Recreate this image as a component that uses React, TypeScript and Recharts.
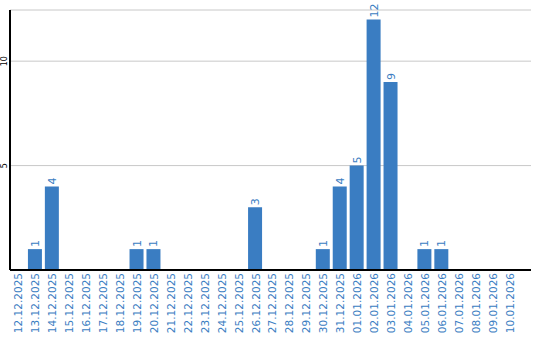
import React from 'react';
import { BarChart, Bar, XAxis, YAxis, CartesianGrid, LabelList } from 'recharts';

const dates = [
  '12.12.2025', '13.12.2025', '14.12.2025', '15.12.2025', '16.12.2025', '17.12.2025',
  '18.12.2025', '19.12.2025', '20.12.2025', '21.12.2025', '22.12.2025', '23.12.2025',
  '24.12.2025', '25.12.2025', '26.12.2025', '27.12.2025', '28.12.2025', '29.12.2025',
  '30.12.2025', '31.12.2025', '01.01.2026', '02.01.2026', '03.01.2026', '04.01.2026',
  '05.01.2026', '06.01.2026', '07.01.2026', '08.01.2026', '09.01.2026', '10.01.2026',
];
const counts = [0, 1, 4, 0, 0, 0, 0, 1, 1, 0, 0, 0, 0, 0, 3, 0, 0, 0, 1, 4, 5, 12, 9, 0, 1, 1, 0, 0, 0, 0];
const yTicks = [5, 10];

const data = dates.map((d, i) => ({ date: d, count: counts[i] }));

const BLUE = '#3a7dc2';
const FONT = '"DejaVu Sans", sans-serif';

// x axis sits at y=270, labels hang below it reading bottom-to-top
const DateTick = (props: any) => {
  const { x, payload } = props;
  return (
    <text
      x={0}
      y={0}
      transform={`translate(${x + 4},273) rotate(-90)`}
      textAnchor="end"
      fill={BLUE}
      fontSize={10.5}
      fontFamily={FONT}
    >
      {payload.value}
    </text>
  );
};

const CountTick = (props: any) => {
  const { y, payload } = props;
  return (
    <text
      x={0}
      y={0}
      transform={`translate(7,${y}) rotate(-90)`}
      textAnchor="middle"
      fill="#000"
      fontSize={8}
      fontFamily={FONT}
    >
      {payload.value}
    </text>
  );
};

const ValueLabel = (props: any) => {
  const { x, y, width, value } = props;
  if (!value) return null;
  return (
    <text
      x={0}
      y={0}
      transform={`translate(${x + width / 2 + 4},${y - 2}) rotate(-90)`}
      textAnchor="start"
      fill={BLUE}
      fontSize={11}
      fontFamily={FONT}
    >
      {value}
    </text>
  );
};

export default function App() {
  return (
    <div style={{ position: 'absolute', left: 0, top: 0, background: '#fff' }}>
      <BarChart
        width={540}
        height={340}
        data={data}
        margin={{ top: 10, right: 9, left: 0, bottom: 0 }}
        barSize={14}
      >
        <CartesianGrid vertical={false} stroke="#c8c8c8" />
        <XAxis
          dataKey="date"
          interval={0}
          height={70}
          tick={<DateTick />}
          tickLine={false}
          axisLine={{ stroke: '#000', strokeWidth: 2 }}
          padding={{ left: 0, right: 13 }}
        />
        <YAxis
          width={10}
          domain={[0, 12.45]}
          ticks={yTicks}
          tick={<CountTick />}
          tickLine={false}
          axisLine={{ stroke: '#000', strokeWidth: 2 }}
        />
        <Bar dataKey="count" fill={BLUE} isAnimationActive={false}>
          <LabelList dataKey="count" content={<ValueLabel />} />
        </Bar>
      </BarChart>
    </div>
  );
}
